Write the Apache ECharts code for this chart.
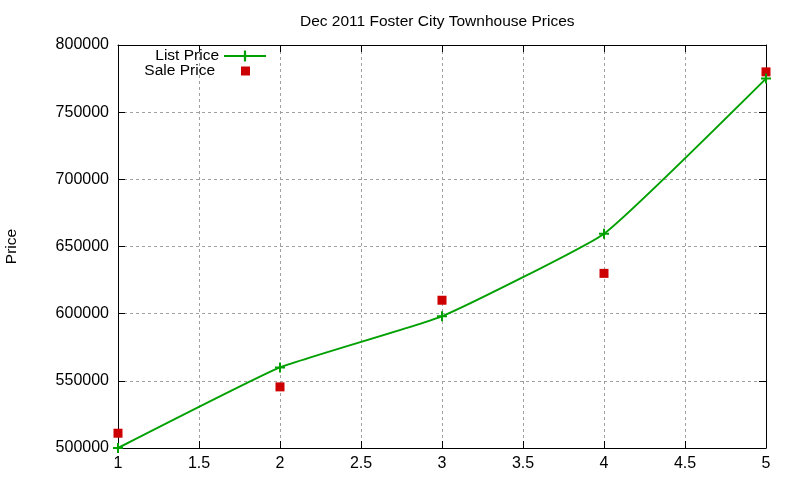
<!DOCTYPE html>
<html>
<head>
<meta charset="utf-8">
<script src="https://cdn.jsdelivr.net/npm/echarts@6/dist/echarts.min.js"></script>
<style>
  html, body { margin: 0; padding: 0; background: #fff; }
  #chart { width: 800px; height: 480px; }
</style>
</head>
<body>
<div id="chart"></div>
<script>
/* Dec 2011 Foster City townhouse prices — list vs sale */
var houses = [1, 2, 3, 4, 5];
var listPrice = [500000, 560000, 598000, 659500, 775000];
var salePrice = [511000, 545500, 610000, 630000, 780000];
var yTicks = [500000, 550000, 600000, 650000, 700000, 750000, 800000];
var xTicks = [1, 1.5, 2, 2.5, 3, 3.5, 4, 4.5, 5];

(function () {
  var font = 'Liberation Sans, Arial, sans-serif';
  var ink = '#000';
  var green = '#00a000';
  var red = '#cc0000';
  var gridCol = '#a0a0a0';
  var plus = 'path://M4,0H6V4H10V6H6V10H4V6H0V4H4Z';

  var listData = houses.map(function (x, i) { return [x, listPrice[i]]; });
  var saleData = houses.map(function (x, i) { return [x, salePrice[i]]; });

  var chart = echarts.init(document.getElementById('chart'), null, { renderer: 'canvas' });
  var legendText = { fontFamily: font, fontSize: 15.5, color: ink };
  chart.setOption({
    animation: false,
    textStyle: { fontFamily: font },
    title: {
      text: 'Dec 2011 Foster City Townhouse Prices',
      left: 295, top: 9,
      textStyle: { fontFamily: font, fontSize: 15.5, fontWeight: 'normal', color: ink }
    },
    legend: [{
      data: ['List Price'], orient: 'vertical', align: 'right',
      right: 533, top: 48, itemWidth: 42, itemHeight: 14, padding: 0,
      textStyle: legendText
    }, {
      data: ['Sale Price'], orient: 'vertical', align: 'right',
      right: 550, top: 63, itemWidth: 9, itemHeight: 9, padding: 0,
      textStyle: Object.assign({ padding: [0, 21, 0, 0] }, legendText)
    }],
    grid: { left: 118, right: 34, top: 45, bottom: 32, containLabel: false, outerBoundsMode: 'none' },
    xAxis: [{
      type: 'value', min: xTicks[0], max: xTicks[xTicks.length - 1], interval: 0.5,
      axisLine: { onZero: false, lineStyle: { color: ink, width: 1 } },
      axisTick: { inside: true, length: 7, lineStyle: { color: ink } },
      axisLabel: { color: ink, fontSize: 16, margin: 8, fontFamily: font },
      splitLine: { show: true, lineStyle: { color: gridCol, type: [3, 3], width: 1 } }
    }, {
      type: 'value', position: 'top', min: xTicks[0], max: xTicks[xTicks.length - 1], interval: 0.5,
      axisLine: { show: true, onZero: false, lineStyle: { color: ink } },
      axisTick: { inside: true, length: 7, lineStyle: { color: ink } },
      axisLabel: { show: false }, splitLine: { show: false }
    }],
    yAxis: [{
      type: 'value', min: yTicks[0], max: yTicks[yTicks.length - 1], interval: 50000,
      name: 'Price', nameLocation: 'middle', nameGap: 98, nameRotate: 90,
      nameTextStyle: { color: ink, fontSize: 15.5, fontFamily: font },
      axisLine: { show: true, onZero: false, lineStyle: { color: ink } },
      axisTick: { show: true, inside: true, length: 7, lineStyle: { color: ink } },
      axisLabel: { color: ink, fontSize: 16, margin: 9, fontFamily: font,
        formatter: function (v) { return String(v); } },
      splitLine: { show: true, lineStyle: { color: gridCol, type: [3, 3], width: 1 } }
    }, {
      type: 'value', position: 'right', min: yTicks[0], max: yTicks[yTicks.length - 1], interval: 50000,
      axisLine: { show: true, onZero: false, lineStyle: { color: ink } },
      axisTick: { show: true, inside: true, length: 7, lineStyle: { color: ink } },
      axisLabel: { show: false }, splitLine: { show: false }
    }],
    series: [{
      name: 'List Price', type: 'line', data: listData, smooth: 0.12,
      symbol: plus, symbolSize: 10,
      lineStyle: { color: green, width: 2 },
      itemStyle: { color: green }
    }, {
      name: 'Sale Price', type: 'scatter', data: saleData,
      symbol: 'rect', symbolSize: 9,
      itemStyle: { color: red, opacity: 1 }
    }]
  });
  window.addEventListener('resize', function () { chart.resize(); });
})();
</script>
</body>
</html>
